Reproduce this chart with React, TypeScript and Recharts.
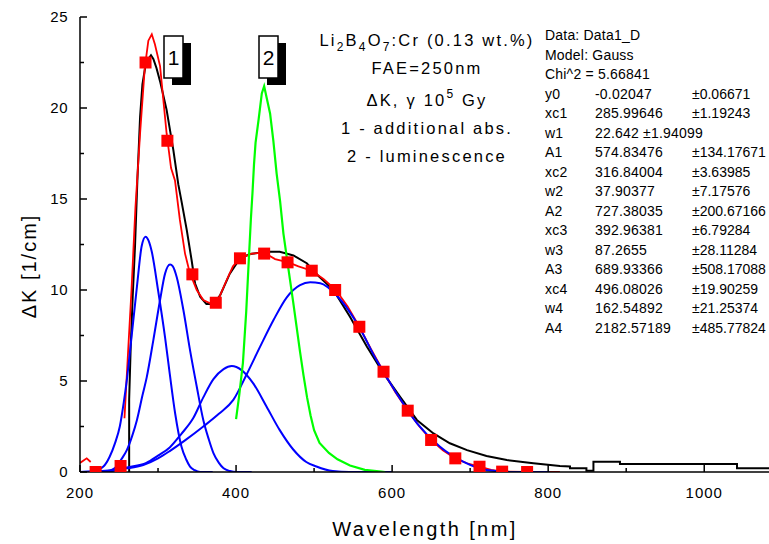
import { ComposedChart, Line, Scatter, XAxis, YAxis } from 'recharts';

const FONT = '"Liberation Sans", Arial, sans-serif';

// measured absorption spectrum (black)
const blackAbs: [number, number][] = [
  [263, 0], [263, 4], [265, 6.9], [267.5, 9.6], [270.5, 12.4], [273.5, 16], [277, 19.5],
  [280, 21.3], [284.6, 22.5], [291, 22.9], [294, 22.7], [298, 22.2], [303, 21.4], [311, 19.9],
  [319.6, 17.7], [326, 15.8], [330, 14.9], [336.8, 13.3], [343, 11.65], [347.4, 10.37],
  [354, 9.63], [362, 9.23], [371, 9.23], [379.5, 9.7], [392, 10.9], [405, 11.74], [418, 11.98],
  [439, 12.1], [456, 12.1], [473.5, 11.9], [490.6, 11.47], [505, 10.8], [524.7, 10],
  [546, 8.53], [567.6, 6.89], [589, 5.42], [610, 4.14], [631.7, 2.86], [653, 2.12],
  [674, 1.58], [696, 1.2], [721, 0.88], [747, 0.66], [781, 0.48], [815, 0.33], [828, 0.3],
  [828, 0.2], [849, 0.2], [849, 0.07], [858, 0.07], [858, 0.57], [892, 0.57], [892, 0.44],
  [1042, 0.44], [1042, 0.2], [1083, 0.2],
];

// cumulative fit (red line)
const redFit: [number, number | null][] = [
  [200, 0.5], [208.6, 0.75], [213.7, 0.55], [235, null],
  [257, 2.95], [262, 6.9], [266, 10], [271, 14.5], [277, 18.6], [283, 22.2], [287.6, 23.7],
  [292, 24.05], [296, 23.5], [302.6, 22.3], [311, 18.6], [316.7, 16.7], [321.8, 16],
  [328, 13.85], [334.6, 12], [341, 10.9], [344, 10.6], [349.6, 10], [358, 9.45], [368.8, 9.23],
  [374, 9.3], [379.5, 9.7], [388, 10.55], [396, 11.3], [405, 11.74], [420, 12.0], [436, 12.05],
  [450, 11.7], [467, 11.52], [480, 11.3], [497, 11.06], [512, 10.6], [528, 10.0], [543, 9.1],
  [558, 7.98], [573, 6.75], [589, 5.51], [604, 4.4], [620, 3.37], [635, 2.5], [650, 1.76],
  [665, 1.2], [681, 0.75], [696, 0.48], [712, 0.29], [727, 0.12], [742, 0.02], [773, 0], [815, 0],
];

const redMarkers: [number, number][] = [
  [220, 0], [252, 0.33], [284, 22.5], [312, 18.2], [344, 10.86], [374, 9.3], [405, 11.74],
  [436, 12.0], [466, 11.52], [497, 11.06], [527, 10.0], [558, 7.98], [589, 5.51], [620, 3.37],
  [650, 1.76], [681, 0.75], [712, 0.29], [741, 0.02], [773, 0],
];

// gaussian components (blue)
const band1: [number, number][] = [
  [200, 0], [215, 0], [230, 0.3], [238, 0.84], [245, 1.6], [251, 2.5], [256, 3.8], [260, 5.05],
  [266, 7.4], [273, 10.2], [279, 12.4], [284, 12.93], [288, 12.7], [292, 12.1], [300, 10],
  [309, 7.4], [315, 5.4], [322, 3.2], [330, 1.4], [336, 0.7], [341, 0.3], [347, 0.1],
  [354, 0], [370, 0],
];

const band2: [number, number][] = [
  [200, 0], [235, 0.05], [247, 0.3], [253, 0.7], [260, 1.2], [267, 2], [273, 2.86], [280, 4.2],
  [285.5, 5.2], [294, 7.25], [302.6, 9.45], [309, 10.9], [315.4, 11.4], [319, 11.3],
  [324, 10.7], [332.5, 8.9], [341, 6.7], [349.6, 4.7], [358, 2.86], [365, 1.8], [371, 1.04],
  [378, 0.5], [384, 0.2], [392, 0.05], [401, 0], [420, 0],
];

const band3: [number, number][] = [
  [200, 0], [240, 0.05], [260, 0.25], [285, 0.5], [300, 0.9], [315, 1.35], [330, 2.1],
  [345, 2.95], [358, 4.1], [371, 5.1], [384, 5.65], [394.5, 5.82], [407, 5.6], [422, 4.87],
  [439, 3.6], [456, 2.3], [473, 1.25], [490, 0.55], [503, 0.3], [524, 0.05], [545, 0], [600, 0],
];

const band4: [number, number][] = [
  [200, 0], [240, 0.1], [260, 0.2], [281, 0.38], [300, 0.75], [315, 1.15], [335, 1.75],
  [358, 2.5], [378, 3.2], [396.5, 3.96], [414, 5.4], [431, 6.9], [448, 8.35], [465, 9.6],
  [482, 10.27], [495, 10.42], [508, 10.37], [529, 9.7], [555, 8.17], [580, 6.15], [606, 4.3],
  [632, 2.67], [661, 1.4], [691, 0.57], [721, 0.11], [755, 0], [802, 0],
];

// luminescence (green)
const lumin: [number, number][] = [
  [400, 2.9], [404, 4.2], [408.8, 6.0], [413, 8.8], [416.5, 11.8], [419, 13.9], [421, 15.3],
  [423, 16.9], [425, 18.1], [429, 19.4], [433, 20.8], [436, 21.2], [439, 20.6], [443.6, 19.7],
  [447.8, 18.2], [452, 16.4], [456.4, 14.9], [460.7, 13.1], [465, 11.8], [469, 10.6],
  [473, 9.4], [477.5, 8.0], [482, 6.6], [486.5, 5.3], [491, 4.1], [495.5, 3.1], [500, 2.3],
  [507, 1.6], [519, 1.05], [530, 0.7], [546, 0.36], [565, 0.12], [583, 0.04], [591, 0],
];

const xTicks = [200, 300, 400, 500, 600, 700, 800, 900, 1000];
const yTicks = [0, 2.5, 5, 7.5, 10, 12.5, 15, 17.5, 20, 22.5, 25];

const headerLines = ['Data: Data1_D', 'Model: Gauss', 'Chi^2 = 5.66841'];
const paramNames = ['y0', 'xc1', 'w1', 'A1', 'xc2', 'w2', 'A2', 'xc3', 'w3', 'A3', 'xc4', 'w4', 'A4'];
const paramValues = ['-0.02047', '285.99646', '22.642', '574.83476', '316.84004', '37.90377',
  '727.38035', '392.96381', '87.2655', '689.93366', '496.08026', '162.54892', '2182.57189'];
const paramErrors = ['±0.06671', '±1.19243', '±1.94099', '±134.17671', '±3.63985', '±7.17576',
  '±200.67166', '±6.79284', '±28.11284', '±508.17088', '±19.90259', '±21.25374', '±485.77824'];

const pts = (arr: [number, number | null][]) => arr.map(([x, y]) => ({ x, y }));

const XTick = (props: any) => {
  const { x, y, payload } = props;
  const major = payload.value % 200 === 0;
  return (
    <g>
      <line x1={x} x2={x} y1={y} y2={y - (major ? 7 : 4)} stroke="#000" strokeWidth={1.5} />
      {major && (
        <text x={x} y={y + 26} textAnchor="middle" fontSize={15} letterSpacing={1}
          fontFamily={FONT} fill="#000">{payload.value}</text>
      )}
    </g>
  );
};

const YTick = (props: any) => {
  const { x, y, payload } = props;
  const major = payload.value % 5 === 0;
  return (
    <g>
      <line x1={x} x2={x + (major ? 7 : 4)} y1={y} y2={y} stroke="#000" strokeWidth={1.5} />
      {major && (
        <text x={x - 12} y={y + 5} textAnchor="end" fontSize={15} letterSpacing={0.5}
          fontFamily={FONT} fill="#000">{payload.value}</text>
      )}
    </g>
  );
};

const Square = (props: any) => (
  <rect x={props.cx - 6} y={props.cy - 6} width={12} height={12} fill="#ff0000" />
);

const TagBox = ({ x, y, label }: { x: number; y: number; label: string }) => (
  <g>
    <rect x={x + 8} y={y + 7} width={19} height={42} fill="#000" />
    <rect x={x} y={y} width={19} height={42} fill="#fff" stroke="#000" strokeWidth={1.5} />
    <text x={x + 9.5} y={y + 29} textAnchor="middle" fontSize={21} fontFamily={FONT} fill="#000">{label}</text>
  </g>
);

export default function App() {
  const annot = { fontSize: 16.5, letterSpacing: 2.2, fontFamily: FONT, fill: '#000', textAnchor: 'middle' as const };
  const par = { fontSize: 14, letterSpacing: 0.2, fontFamily: FONT, fill: '#000' };
  return (
    <div style={{ position: 'absolute', left: 0, top: 0, width: 769, height: 544, background: '#fff' }}>
      <ComposedChart width={769} height={544} margin={{ top: 17, right: 0, bottom: 0, left: 0 }}>
        <XAxis dataKey="x" type="number" domain={[200, 1083]} allowDataOverflow ticks={xTicks}
          interval={0} height={72} tickSize={0} tickMargin={0} tickLine={false} tick={<XTick />}
          axisLine={{ stroke: '#000', strokeWidth: 1.5 }} />
        <YAxis type="number" domain={[0, 25]} allowDataOverflow ticks={yTicks} interval={0}
          width={80} tickSize={0} tickMargin={0} tickLine={false} tick={<YTick />}
          axisLine={{ stroke: '#000', strokeWidth: 1.5 }} />
        <Line data={pts(blackAbs)} dataKey="y" type="linear" stroke="#000" strokeWidth={2}
          dot={false} isAnimationActive={false} />
        <Line data={pts(redFit)} dataKey="y" type="linear" stroke="#ff0000" strokeWidth={1.8}
          dot={false} isAnimationActive={false} />
        <Scatter data={pts(redMarkers)} dataKey="y" shape={<Square />} isAnimationActive={false} />
        {[band1, band2, band3, band4].map((b, i) => (
          <Line key={i} data={pts(b)} dataKey="y" type="monotone" stroke="#0000ff" strokeWidth={2}
            dot={false} isAnimationActive={false} />
        ))}
        <Line data={pts(lumin)} dataKey="y" type="linear" stroke="#00ff00" strokeWidth={2.2}
          dot={false} isAnimationActive={false} />
      </ComposedChart>
      <svg width={769} height={544} style={{ position: 'absolute', left: 0, top: 0, pointerEvents: 'none' }}>
        <TagBox x={164} y={36} label="1" />
        <TagBox x={259} y={36} label="2" />

        <text x={427} y={46} {...annot}>
          Li<tspan fontSize={12} dy={5}>2</tspan><tspan dy={-5}>B</tspan>
          <tspan fontSize={12} dy={5}>4</tspan><tspan dy={-5}>O</tspan>
          <tspan fontSize={12} dy={5}>7</tspan><tspan dy={-5}>:Cr (0.13 wt.%)</tspan>
        </text>
        <text x={427} y={74} {...annot}>FAE=250nm</text>
        <text x={427} y={106} {...annot}>
          ΔK, γ 10<tspan fontSize={12} dy={-8}>5</tspan><tspan dy={8}> Gy</tspan>
        </text>
        <text x={427} y={134} {...annot}>1 - additional abs.</text>
        <text x={427} y={162} {...annot}>2 - luminescence</text>

        {headerLines.map((t, i) => (
          <text key={t} x={545} y={40 + i * 19.5} {...par}>{t}</text>
        ))}
        {paramNames.map((n, i) => {
          const yy = 40 + (i + 3) * 19.5;
          const inline = n === 'w1';
          return (
            <g key={n}>
              <text x={545} y={yy} {...par}>{n}</text>
              <text x={595} y={yy} {...par}>
                {inline ? `${paramValues[i]}  ${paramErrors[i]}` : paramValues[i]}
              </text>
              {!inline && (
                <text x={692} y={yy} {...par} letterSpacing={0}>{paramErrors[i]}</text>
              )}
            </g>
          );
        })}

        <text x={425} y={536} textAnchor="middle" fontSize={20} letterSpacing={2.4} fontFamily={FONT}>
          Wavelength [nm]
        </text>
        <text x={0} y={0} transform="translate(36,266) rotate(-90)" textAnchor="middle" fontSize={20}
          letterSpacing={2} fontFamily={FONT}>ΔK [1/cm]</text>
      </svg>
    </div>
  );
}
